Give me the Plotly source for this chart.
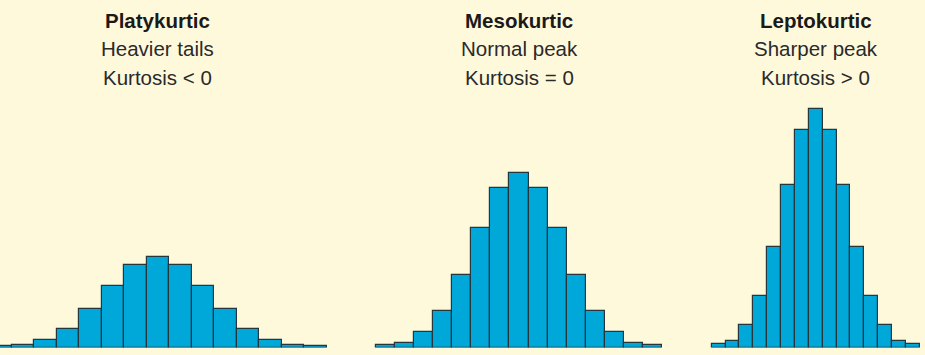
import plotly.graph_objects as go

# ---- data (bar heights) ----
bins = list(range(15))
platykurtic = [2.0, 2.3, 7.3, 18.3, 39.0, 61.3, 82.3, 90.3, 82.3, 61.3, 39.0, 18.3, 7.3, 2.3, 2.0]
mesokurtic = [3.0, 5.0, 15.7, 36.7, 72.3, 119.3, 159.3, 175.0, 159.3, 119.3, 72.3, 36.7, 15.7, 5.0, 3.0]
leptokurtic = [4.0, 6.3, 22.3, 51.3, 101.0, 162.3, 217.7, 238.3, 217.7, 162.3, 101.0, 51.3, 22.3, 6.3, 4.0]

titles = ["Platykurtic", "Mesokurtic", "Leptokurtic"]
line2 = ["Heavier tails", "Normal peak", "Sharper peak"]
line3 = ["Kurtosis < 0", "Kurtosis = 0", "Kurtosis > 0"]

# ---- layout constants (pixels) ----
W, H = 925, 355
BASE = 347.5
panels = [
    # left edge of first bar, bin width, domain px
    dict(L=-10.8, w=22.5, d=(0, 340)),
    dict(L=376.0, w=19.07, d=(345, 690)),
    dict(L=711.7, w=13.87, d=(695, 925)),
]
BG = "#FFF9DC"
BAR = "#00A8D9"
EDGE = "#26363d"

fig = go.Figure()
series = [platykurtic, mesokurtic, leptokurtic]
for i, (vals, p) in enumerate(zip(series, panels)):
    ax = "" if i == 0 else str(i + 1)
    fig.add_trace(go.Bar(
        x=bins, y=vals, width=1,
        marker=dict(color=BAR, line=dict(color=EDGE, width=1.2)),
        xaxis="x" + ax, yaxis="y", showlegend=False, hoverinfo="skip",
    ))
    d0, d1 = p["d"]
    rng = [(d0 - p["L"]) / p["w"] - 0.5, (d1 - p["L"]) / p["w"] - 0.5]
    fig.layout["xaxis" + ax] = dict(
        domain=[d0 / W, d1 / W], range=rng, visible=False, anchor="y", fixedrange=True,
    )
    cx = (p["L"] + 7.5 * p["w"]) / W
    for txt, ypix, bold in [(titles[i], 20, True), (line2[i], 48, False), (line3[i], 77.5, False)]:
        fig.add_annotation(
            x=cx, y=1 - ypix / H, xref="paper", yref="paper",
            text=f"<b>{txt}</b>" if bold else txt, showarrow=False,
            xanchor="center", yanchor="middle",
            font=dict(family="Liberation Sans, Arial, sans-serif", size=20.5,
                      color="#1a1a1a" if bold else "#2a2a2a"),
        )

fig.update_layout(
    width=W, height=H,
    margin=dict(l=0, r=0, t=0, b=0),
    paper_bgcolor=BG, plot_bgcolor=BG,
    bargap=0,
    yaxis=dict(domain=[(H - BASE) / H, 1], range=[0, BASE], visible=False, fixedrange=True),
)
fig.write_html(
    "out.html",
    config={"displayModeBar": False},
    post_script="document.body.style.margin='0';document.body.style.overflow='hidden';",
)
